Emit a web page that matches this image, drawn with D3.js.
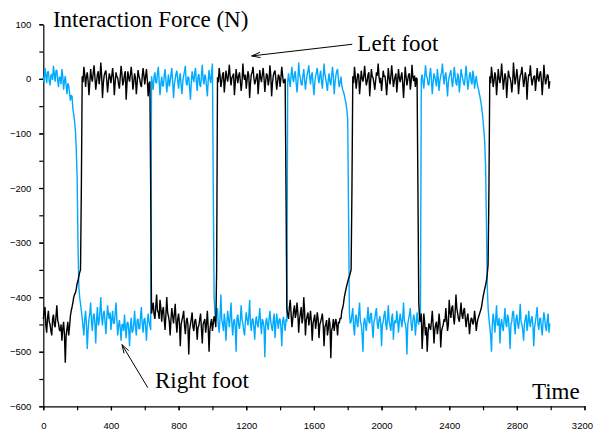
<!DOCTYPE html>
<html>
<head>
<meta charset="utf-8">
<script src="https://cdn.jsdelivr.net/npm/d3@7"></script>
<style>
  body { margin: 0; background: #fff; }
  .tick text { font-family: "Liberation Sans", Arial, sans-serif; font-size: 9.5px; fill: #000; }
  .note { font-family: "Liberation Serif", "Times New Roman", serif; font-size: 23px; fill: #000; }
</style>
</head>
<body>
<svg id="chart" width="593" height="433"></svg>
<script>
// samples every 5 time units, from t = 0 to t = 2995 (one row = 100 time units)
const sampleStep = 5;

// right foot force (N)
const rightFoot = [
  3, -6, 20, 8, -8, 12, 14, -4, -12, 6, 9, -2, 24, 10, -5, 15, 16, -3, -15, 4,
  2, -10, 18, 5, -20, -4, 5, -12, -28, -8, -12, -25, -40, -30, -32, -55, -65, -78, -95, -130,
  -180, -300, -380, -400, -412, -425, -438, -455, -470, -440, -425, -450, -495, -460, -440, -430, -410, -445, -462, -435,
  -430, -448, -485, -440, -418, -452, -445, -425, -400, -438, -452, -430, -425, -445, -468, -440, -415, -432, -440, -428,
  -460, -440, -425, -448, -448, -430, -410, -442, -470, -452, -442, -458, -480, -450, -450, -462, -432, -455, -475, -448,
  -445, -460, -490, -452, -438, -465, -462, -448, -425, -455, -470, -442, -440, -458, -458, -435, -418, -450, -465, -442,
  -438, -455, -480, -448, -430, -445, -452, -460, 5, -8, -20, 4, 12, -6, -8, 10, 22, -4, -30, -10,
  4, -12, -14, 6, 18, -2, -25, -8, 8, -14, -5, 8, 20, -6, -35, -10, 0, 10, 15, -4,
  -18, 2, 10, -12, -28, -4, 6, 14, 24, -8, -12, 4, 2, -16, -38, -6, 14, 2, -6, 10,
  20, -6, -22, 4, 9, -10, -15, 6, 26, -2, -10, 8, 4, -14, -32, -4, 16, 0, -8, 12,
  28, -200, -400, -430, -445, -425, -420, -452, -465, -438, -395, -440, -450, -462, -430, -445, -480, -450, -425, -440,
  -455, -435, -410, -448, -470, -445, -440, -455, -500, -438, -432, -450, -458, -442, -415, -440, -448, -462, -470, -445,
  -428, -440, -452, -435, -405, -448, -462, -440, -440, -455, -478, -445, -435, -450, -455, -438, -420, -448, -468, -440,
  -445, -455, -510, -448, -438, -450, -460, -440, -425, -445, -455, -462, -442, -430, -475, -450, -430, -445, -458, -440,
  -440, -455, -490, -445, -436, -450, -462, -440, -445, -5, 10, -4, -15, 6, 22, 2, -6, 8, 14, -6,
  -25, -6, 30, 8, 2, -10, -12, 6, 18, -2, -20, -4, 8, 14, 25, 4, -10, 6, 12, -8,
  -30, -8, 5, 12, 20, 2, -8, 6, 15, -4, -18, 4, 28, 8, 0, -10, -22, -2, 10, -6,
  -12, 6, 22, 4, -28, -6, 6, 14, 18, -2, -15, -6, 4, -12, -20, -24, -30, -38, -45, -58,
  -75, -250, -430, -448, -445, -432, -420, -455, -470, -440, -432, -448, -455, -430, -410, -445, -450, -468, -500, -448,
  -438, -450, -462, -440, -418, -445, -448, -430, -430, -455, -475, -445, -440, -428, -420, -450, -458, -442, -435, -448,
  -490, -450, -445, -432, -425, -448, -460, -440, -415, -445, -452, -462, -438, -430, -478, -450, -442, -448, -425, -440,
  -465, -445, -430, -442, -455, -438, -410, -445, -448, -458, -505, -450, -440, -432, -420, -448, -462, -445, -432, -440,
  -470, -450, -428, -445, -450, -438, -438, 0, 8, -6, -18, 4, 25, 6, 2, -10, -12, 8, 20, -2,
  -28, -6, 10, 4, -5, -14, 18, 2, -22, -4, 6, 12, 28, 4, -10, 6, 12, -8, -32, -6,
  4, 10, 16, -4, -15, 2, 22, 6, -8, -12, 10, 4, -25, -6, 18, 8, 0, -8, -12, 6,
  24, 2, -20, -6, 8, 12, -6, -10, 15, 4, -18, -4, 5, -8, -15, -22, -30, -38, -48, -60,
  -75, -95, -115, -160, -260, -380, -420, -440, -455, -470, -500, -448, -430, -445, -465, -440, -415, -452, -450, -438,
  -485, -450, -440, -455, -462, -440, -420, -448, -455, -432, -438, -460, -495, -450, -445, -428, -425, -450, -468, -440,
  -432, -448, -458, -440, -412, -445, -450, -462, -480, -448, -440, -432, -462, -450, -425, -445, -455, -440, -435, -452,
  -490, -455, -445, -432, -418, -450, -460, -440, -438, -455, -470, -445, -428, -440, -455, -462, -442, -430, -465, -448
];

// left foot force (N)
const leftFoot = [
  -440, -428, -418, -452, -465, -438, -425, -445, -450, -462, -470, -440, -432, -450, -455, -435, -415, -442, -448, -460,
  -462, -450, -480, -458, -445, -468, -520, -470, -458, -445, -470, -455, -435, -425, -418, -410, -400, -395, -392, -385,
  -375, -370, -362, -355, -350, -200, 5, -6, 22, 8, -15, 4, 12, -4, -30, -8, 18, 2, -5, 10,
  25, 4, -20, -6, 8, 14, -10, 2, 30, 6, -35, -8, 6, 12, 15, -2, -25, -6, 10, 4,
  -8, 6, 20, 2, -30, -6, 12, 4, 2, -10, -18, 4, 24, 8, -12, -4, 8, 14, -38, -8,
  14, 2, -5, 8, 22, 4, -20, -6, 10, 2, -28, -8, 16, 6, 0, -10, -15, 4, 20, 6,
  -10, 4, 18, -2, -32, -8, -5, -200, -430, -420, -410, -432, -440, -418, -395, -425, -428, -440, -405, -420,
  -445, -425, -418, -440, -460, -432, -400, -428, -435, -445, -470, -440, -420, -435, -448, -430, -412, -445, -465, -440,
  -430, -448, -490, -450, -442, -435, -425, -452, -468, -445, -438, -450, -505, -460, -450, -440, -428, -455, -462, -445,
  -440, -452, -478, -455, -452, -440, -430, -458, -485, -450, -445, -440, -465, -450, -425, -455, -500, -460, -448, -440,
  -462, -448, -435, -442, -455, -350, 3, -6, 20, 6, -15, -4, 8, 12, -25, -6, 15, 4, -5, 8,
  26, 4, -12, 2, 5, 10, -30, -8, 18, 4, -8, 6, 12, -4, -22, -6, 28, 6, -2, 8,
  -18, -2, 14, 6, -35, -8, 8, 12, 22, 2, -10, -4, 4, 10, -28, -6, 16, 2, -6, 8,
  20, 2, -24, -4, 10, 6, -12, -2, 25, 6, -32, -8, 6, 12, 15, 0, -20, -6, 8, 4,
  -15, 2, 22, 6, -8, -4, 0, -200, -420, -432, -440, -418, -405, -430, -455, -440, -425, -415, -438, -430,
  -410, -428, -465, -440, -430, -418, -448, -438, -400, -425, -470, -442, -435, -428, -452, -440, -425, -445, -480, -448,
  -440, -432, -458, -445, -428, -440, -475, -450, -445, -438, -430, -452, -490, -455, -450, -442, -470, -458, -438, -450,
  -512, -460, -455, -440, -462, -448, -440, -452, -470, -445, -448, -438, -440, -425, -420, -412, -400, -392, -385, -378,
  -372, -366, -362, -356, -350, -200, 5, -8, 22, 4, -18, -2, 10, 6, -28, -8, 15, 2, -5, 6,
  24, 2, -12, -4, 8, 12, -32, -6, 18, 4, 2, -8, -20, -4, 12, 6, 28, 4, -8, 2,
  -22, -4, 15, 4, 6, -8, -30, -6, 20, 2, -10, 4, 25, 6, -15, -4, 4, 10, -25, -6,
  18, 2, -6, 4, 12, -8, -35, -6, 22, 4, -12, -2, 8, 10, -20, -6, 26, 4, -4, 6,
  -15, 2, 0, -200, -410, -440, -445, -430, -495, -460, -430, -448, -470, -455, -500, -465, -448, -455, -460, -445,
  -425, -450, -485, -460, -450, -445, -468, -455, -430, -448, -492, -462, -455, -450, -440, -445, -420, -440, -462, -450,
  -405, -428, -438, -420, -415, -435, -450, -430, -395, -420, -430, -440, -445, -428, -410, -432, -440, -425, -420, -438,
  -455, -440, -430, -445, -468, -450, -438, -440, -450, -445, -425, -440, -462, -448, -440, -435, -430, -425, -420, -410,
  -400, -392, -385, -378, -370, -358, -340, -200, 5, -8, 22, 6, -15, -4, 12, 4, -30, -8, 18, 2,
  -8, 4, 28, 6, -20, -4, 10, 2, -35, -8, 15, 4, 2, -6, -25, -8, 30, 6, -10, 2,
  18, 2, -28, -6, 6, 10, 22, 4, -15, -4, 12, 2, -38, -8, 8, 6, 25, 2, -12, -2,
  4, 6, -22, -4, 20, 2, -5, 8, 14, -2, -30, -6, 26, 4, -10, -2, 8, 6, -18, -4
];

const xTicks = [0, 400, 800, 1200, 1600, 2000, 2400, 2800, 3200];
const xMinorTicks = d3.range(0, 3201, 200);
const yTicks = [100, 0, -100, -200, -300, -400, -500, -600];
const yMinorTicks = d3.range(-600, 101, 50);

const titleText = "Interaction Force (N)";
const xTitle = "Time";
const leftLabel = "Left foot";
const rightLabel = "Right foot";

const svg = d3.select("#chart");

const x = d3.scaleLinear().domain([0, 3200]).range([43.3, 584.5]);
const y = d3.scaleLinear().domain([-600, 100]).range([406.3, 24.3]);

// minor ticks first, then the labelled axes over them
svg.append("g")
  .attr("transform", "translate(0," + y(-600) + ")")
  .call(d3.axisBottom(x).tickValues(xMinorTicks).tickSize(4).tickFormat(""))
  .call(g => g.select(".domain").remove());
svg.append("g")
  .attr("transform", "translate(" + x(0) + ",0)")
  .call(d3.axisLeft(y).tickValues(yMinorTicks).tickSize(4).tickFormat(""))
  .call(g => g.select(".domain").remove());

const xAxis = svg.append("g")
  .attr("transform", "translate(0," + y(-600) + ")")
  .call(d3.axisBottom(x).tickValues(xTicks).tickSize(4).tickSizeOuter(0).tickPadding(12).tickFormat(d3.format("d")));
// last label sits a little left of its tick so it stays inside the frame
xAxis.selectAll(".tick text").filter(d => d === 3200).attr("text-anchor", "end").attr("dx", 8);

const yAxis = svg.append("g")
  .attr("transform", "translate(" + x(0) + ",0)")
  .call(d3.axisLeft(y).tickValues(yTicks).tickSize(4).tickSizeOuter(0).tickPadding(8));

svg.selectAll(".domain, .tick line").attr("stroke", "#000").attr("stroke-width", 1.2);

// traces
const line = d3.line()
  .x((d, i) => x(i * sampleStep))
  .y(d => y(d));

svg.append("path").datum(rightFoot)
  .attr("fill", "none").attr("stroke", "#00aaff").attr("stroke-width", 1.4)
  .attr("stroke-linejoin", "bevel")
  .attr("d", line);
svg.append("path").datum(leftFoot)
  .attr("fill", "none").attr("stroke", "#000").attr("stroke-width", 1.4)
  .attr("stroke-linejoin", "bevel")
  .attr("d", line);

// texts
svg.append("text").attr("class", "note").attr("x", x(57)).attr("y", y(94.6)).text(titleText);
svg.append("text").attr("class", "note").attr("x", x(2889)).attr("y", y(-586)).text(xTitle);
svg.append("text").attr("class", "note").attr("x", x(1857)).attr("y", y(51.7)).text(leftLabel);
svg.append("text").attr("class", "note").attr("x", x(660)).attr("y", y(-566)).text(rightLabel);

// annotation arrows: [tail, tip] in data coordinates
function arrow(tail, tip) {
  const x1 = x(tail[0]), y1 = y(tail[1]), x2 = x(tip[0]), y2 = y(tip[1]);
  const a = Math.atan2(y1 - y2, x1 - x2);
  const len = 9, spread = 0.3;
  const p = d3.path();
  p.moveTo(x1, y1); p.lineTo(x2, y2);
  p.moveTo(x2 + len * Math.cos(a + spread), y2 + len * Math.sin(a + spread));
  p.lineTo(x2, y2);
  p.lineTo(x2 + len * Math.cos(a - spread), y2 + len * Math.sin(a - spread));
  svg.append("path").attr("d", p.toString())
    .attr("fill", "none").attr("stroke", "#000").attr("stroke-width", 1);
}
arrow([1827, 63.4], [1232, 42]);
arrow([618, -566], [465, -487]);
</script>
</body>
</html>
